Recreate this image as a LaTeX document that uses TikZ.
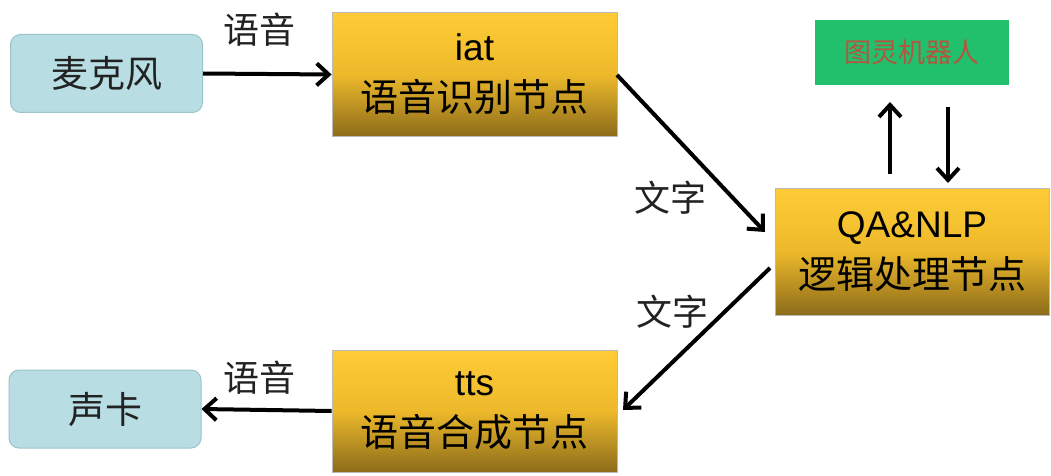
\documentclass[tikz,border=0pt]{standalone}
\usepackage{fontspec}
\setmainfont{Liberation Sans}
\newfontfamily\cjk{Noto Sans CJK SC}
\usetikzlibrary{arrows.meta}
\definecolor{boxblue}{HTML}{B8DDE3}
\definecolor{boxblueline}{HTML}{9CC3CA}
\definecolor{goldtop}{HTML}{FFCC36}
\definecolor{goldmid}{HTML}{EDB92B}
\definecolor{goldbot}{HTML}{8C6C1A}
\definecolor{robotgreen}{HTML}{22C06C}
\definecolor{robottext}{HTML}{B5553F}
\definecolor{txt}{HTML}{222222}
\tikzset{
  endbox/.style={draw=boxblueline, line width=1pt, fill=boxblue, rounded corners=10pt,
    minimum width=192pt, minimum height=78pt, inner sep=0pt, text=txt,
    font=\cjk\fontsize{37}{44}\selectfont},
  goldbox/.style={draw=gray!55, line width=0.8pt, top color=goldtop, bottom color=goldbot,
    middle color=goldmid, minimum width=285pt, minimum height=124pt, inner sep=0pt,
    align=center, text=black, font=\fontsize{38}{51}\selectfont},
  robotbox/.style={fill=robotgreen, minimum width=194pt, minimum height=65pt, inner sep=0pt,
    text=robottext, font=\cjk\fontsize{27}{32}\selectfont},
  lbl/.style={text=txt, font=\cjk\fontsize{36}{40}\selectfont, inner sep=0pt},
  conn/.style={line width=4pt, -{Straight Barb[length=12pt,width=22pt,line width=4pt]}},
}
\newcommand{\twoline}[2]{{\fontsize{37}{51}\selectfont #1}\\{\cjk\fontsize{38}{51}\selectfont #2}}
\begin{document}
\begin{tikzpicture}[x=1pt,y=-1pt]
\useasboundingbox (0,0) rectangle (1051,476);
\node[endbox] (mic) at (106.5,73.5) {麦克风};
\node[endbox] (card) at (105,409) {声卡};
\node[goldbox] (iat) at (474.5,74.5) {\twoline{iat}{语音识别节点}};
\node[goldbox, minimum height=122pt] (tts) at (474.5,411) {\twoline{tts}{语音合成节点}};
\node[goldbox, minimum width=274pt, minimum height=127pt] (qa) at (912,251.5) {\twoline{QA\&NLP}{逻辑处理节点}};
\node[robotbox] (robot) at (912,52.5) {图灵机器人};

\coordinate (a1s) at (617,75);
\coordinate (a1e) at (765,232);
\coordinate (a2s) at (770,268);
\coordinate (a2e) at (623,410);
\coordinate (upS) at (890,174);
\coordinate (upE) at (890,102);
\coordinate (dnS) at (948,107);
\coordinate (dnE) at (948,183);

\draw[conn] (mic.east) -- (iat.west);
\draw[conn] (tts.west) -- (card.east);
\draw[conn] (a1s) -- (a1e);
\draw[conn] (a2s) -- (a2e);
\draw[conn] (upS) -- (upE);
\draw[conn] (dnS) -- (dnE);

\node[lbl] (l1) at (259,30) {语音};
\node[lbl] (l2) at (259,378) {语音};
\node[lbl] (l3) at (670,198) {文字};
\node[lbl] (l4) at (672,312) {文字};
\end{tikzpicture}
\end{document}
